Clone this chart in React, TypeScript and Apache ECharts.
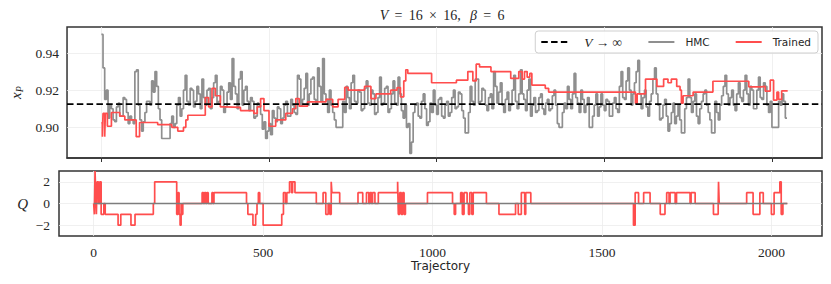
import React, { useEffect, useRef } from 'react';
import * as echarts from 'echarts';

// ---- axis extents / ticks ----
const X_MIN = -102.35;
const X_MAX = 2149.35;
const XP_MIN = 0.8835;
const XP_MAX = 0.954;
const Q_MIN = -3;
const Q_MAX = 3;
const xTicks = [0, 500, 1000, 1500, 2000];
const xpTicks = [0.9, 0.92, 0.94];
const qTicks = [-2, 0, 2];

// infinite-volume reference value
const vInfinity = 0.9125;

// ---- HMC x_P, one reading every 5 trajectories (0, 5, 10, ...) ----
const hmcStride = 5;
const hmcXp = [
  0.950, 0.932, 0.915, 0.920, 0.905, 0.912, 0.910, 0.904, 0.903, 0.911, 0.913, 0.906, 0.906, 0.916, 0.915, 0.908, 0.902, 0.906, 0.904, 0.902,
  0.930, 0.931, 0.912, 0.904, 0.898, 0.903, 0.908, 0.914, 0.914, 0.912, 0.925, 0.919, 0.930, 0.922, 0.910, 0.904, 0.894, 0.894, 0.894, 0.894,
  0.894, 0.902, 0.906, 0.900, 0.902, 0.912, 0.916, 0.906, 0.910, 0.920, 0.928, 0.914, 0.912, 0.921, 0.920, 0.911, 0.914, 0.922, 0.918, 0.910,
  0.926, 0.916, 0.912, 0.920, 0.921, 0.910, 0.916, 0.924, 0.928, 0.913, 0.914, 0.922, 0.920, 0.908, 0.911, 0.919, 0.924, 0.915, 0.937, 0.922,
  0.918, 0.910, 0.926, 0.930, 0.912, 0.920, 0.922, 0.914, 0.909, 0.916, 0.914, 0.905, 0.906, 0.913, 0.912, 0.907, 0.899, 0.903, 0.894, 0.898,
  0.902, 0.896, 0.909, 0.905, 0.903, 0.911, 0.910, 0.902, 0.905, 0.912, 0.914, 0.906, 0.906, 0.915, 0.912, 0.908, 0.907, 0.928, 0.926, 0.912,
  0.915, 0.921, 0.929, 0.912, 0.918, 0.926, 0.927, 0.915, 0.913, 0.932, 0.922, 0.914, 0.937, 0.918, 0.915, 0.908, 0.920, 0.912, 0.908, 0.904,
  0.900, 0.900, 0.900, 0.900, 0.914, 0.908, 0.922, 0.916, 0.910, 0.924, 0.928, 0.914, 0.913, 0.920, 0.919, 0.909, 0.910, 0.921, 0.925, 0.913,
  0.912, 0.920, 0.918, 0.907, 0.908, 0.916, 0.927, 0.912, 0.913, 0.921, 0.922, 0.908, 0.910, 0.918, 0.925, 0.913, 0.912, 0.927, 0.918, 0.909,
  0.905, 0.912, 0.900, 0.902, 0.886, 0.892, 0.908, 0.912, 0.913, 0.906, 0.905, 0.914, 0.918, 0.910, 0.901, 0.903, 0.913, 0.908, 0.920, 0.912,
  0.907, 0.915, 0.916, 0.906, 0.905, 0.912, 0.914, 0.906, 0.908, 0.916, 0.920, 0.910, 0.911, 0.919, 0.918, 0.909, 0.905, 0.897, 0.897, 0.908,
  0.922, 0.914, 0.912, 0.926, 0.926, 0.913, 0.914, 0.921, 0.920, 0.912, 0.909, 0.916, 0.918, 0.910, 0.930, 0.922, 0.913, 0.919, 0.924, 0.912,
  0.908, 0.915, 0.919, 0.909, 0.912, 0.920, 0.928, 0.914, 0.910, 0.918, 0.931, 0.918, 0.915, 0.909, 0.920, 0.926, 0.906, 0.912, 0.916, 0.908,
  0.909, 0.916, 0.918, 0.910, 0.907, 0.913, 0.915, 0.909, 0.910, 0.917, 0.920, 0.912, 0.902, 0.900, 0.900, 0.908, 0.913, 0.910, 0.922, 0.915,
  0.910, 0.918, 0.929, 0.916, 0.913, 0.908, 0.920, 0.915, 0.908, 0.912, 0.916, 0.900, 0.900, 0.906, 0.912, 0.918, 0.906, 0.911, 0.918, 0.912,
  0.909, 0.915, 0.914, 0.906, 0.906, 0.913, 0.916, 0.910, 0.908, 0.922, 0.930, 0.916, 0.915, 0.925, 0.932, 0.920, 0.912, 0.918, 0.924, 0.930,
  0.936, 0.918, 0.910, 0.916, 0.920, 0.911, 0.906, 0.914, 0.918, 0.926, 0.932, 0.918, 0.912, 0.904, 0.905, 0.912, 0.915, 0.906, 0.898, 0.902,
  0.908, 0.913, 0.902, 0.906, 0.912, 0.904, 0.897, 0.897, 0.910, 0.916, 0.926, 0.916, 0.908, 0.914, 0.918, 0.906, 0.902, 0.910, 0.914, 0.918,
  0.920, 0.912, 0.908, 0.904, 0.897, 0.897, 0.914, 0.908, 0.904, 0.912, 0.917, 0.922, 0.928, 0.918, 0.912, 0.916, 0.920, 0.912, 0.909, 0.918,
  0.924, 0.916, 0.914, 0.920, 0.928, 0.918, 0.912, 0.922, 0.920, 0.910, 0.910, 0.920, 0.927, 0.916, 0.915, 0.924, 0.922, 0.912, 0.908, 0.914,
  0.900, 0.900, 0.900, 0.900, 0.914, 0.912, 0.918, 0.914, 0.905, 0.905,
];

// ---- Trained x_P, step changes (trajectory where a value starts) ----
const trainedXpTraj = [
  0, 3, 5, 10, 12, 18, 30, 55, 70, 104, 114, 168, 210, 228, 245, 252, 258, 310, 320, 330,
  340, 355, 370, 415, 455, 465, 475, 485, 500, 520, 550, 570, 580, 590, 615, 670, 690, 706, 726, 736,
  785, 804, 819, 863, 882, 892, 902, 908, 914, 985, 1059, 1093, 1108, 1118, 1128, 1162, 1221, 1245, 1255, 1262,
  1270, 1278, 1284, 1324, 1334, 1593, 1598, 1623, 1657, 1677, 1690, 1700, 1716, 1726, 1730, 1735, 1765, 1824, 1931, 1966,
  1980, 1995, 2005, 2015, 2020, 2029, 2047,
];
const trainedXpVal = [
  0.9024, 0.895, 0.9075, 0.895, 0.9075, 0.9006, 0.908, 0.906, 0.904, 0.895, 0.9026, 0.9015, 0.9, 0.898, 0.9, 0.904, 0.9065, 0.916, 0.911, 0.921,
  0.917, 0.911, 0.9107, 0.909, 0.9075, 0.911, 0.9155, 0.909, 0.9006, 0.904, 0.9075, 0.91, 0.9155, 0.9114, 0.9137, 0.915, 0.911, 0.915, 0.9215, 0.92,
  0.922, 0.9155, 0.918, 0.92, 0.9214, 0.9164, 0.925, 0.931, 0.929, 0.924, 0.9254, 0.93, 0.925, 0.934, 0.9325, 0.93, 0.9263, 0.93, 0.926, 0.93,
  0.927, 0.929, 0.9227, 0.921, 0.919, 0.913, 0.918, 0.926, 0.922, 0.926, 0.924, 0.926, 0.922, 0.92, 0.913, 0.917, 0.919, 0.9248, 0.9218, 0.922,
  0.9195, 0.9254, 0.9146, 0.919, 0.915, 0.9196, 0.9196,
];

// ---- Topological charge Q ----
const hmcQTraj = [0, 2047];
const hmcQVal = [0, 0];
const trainedQTraj = [
  0, 2, 4, 6, 8, 10, 14, 18, 22, 30, 34, 72, 80, 110, 122, 176, 180, 245, 249, 252,
  255, 258, 260, 263, 320, 324, 327, 331, 334, 338, 349, 352, 355, 451, 455, 470, 478, 482, 486, 490,
  500, 555, 560, 566, 570, 578, 584, 587, 594, 657, 677, 685, 692, 697, 701, 703, 726, 780, 794, 805,
  812, 815, 820, 823, 830, 840, 897, 899, 903, 908, 912, 916, 920, 985, 1059, 1064, 1068, 1083, 1088, 1093,
  1102, 1106, 1110, 1116, 1120, 1159, 1196, 1245, 1253, 1262, 1272, 1275, 1290, 1593, 1598, 1608, 1623, 1642, 1672, 1686,
  1691, 1698, 1701, 1716, 1720, 1760, 1763, 1775, 1829, 1843, 1844, 1846, 1927, 1946, 1966, 1976, 2000, 2008, 2025, 2029,
  2034, 2047,
];
const trainedQVal = [
  0, -1, 3, 1, -1, 2, 0, 2, -1, 0, -1, -2, -1, -2, -1, 0, 2, -1, 1, -1,
  -2, 0, -1, 0, 1, 0, 1, 0, 1, 0, 1, 0, 1, 0, -1, -2, -1, 0, 1, 0,
  -2, -1, 1, 0, 1, 2, 1, 2, 1, 0, 1, -1, 0, -1, 2, 1, 0, 1, 0, 1,
  0, 1, 0, 1, 0, 1, 2, -1, 1, -1, 1, -1, 0, 1, 0, -1, 0, 1, -1, 1,
  0, -1, 1, -1, 1, 0, -1, 0, -1, 1, -1, 1, 0, -2, 1, 0, 1, 0, -1, 0,
  1, 0, 1, 0, 1, 0, 1, 0, -1, 0, 2, 0, 1, -1, 1, 0, -1, 1, 2, -1,
  0, 0,
];

const HMC_COLOR = '#8f8f8f';
const TRAINED_COLOR = '#ff4d4d';
const SERIF = 'Liberation Serif';
const SANS = 'DejaVu Sans';
const TEXT = '#262626';
const FRAME = '#333333';
const GRIDLINE = '#ececec';

const zip = (xs: number[], ys: number[]) => xs.map((x, i) => [x, ys[i]]);

export default function App() {
  const ref = useRef<HTMLDivElement>(null);

  useEffect(() => {
    if (!ref.current) return;
    const chart = echarts.init(ref.current, undefined, { renderer: 'svg' });

    const hmcXpData = hmcXp.map((v, i) => [i * hmcStride, v]);
    // horizontal reference line spanning the full x extent
    const vInfData = [
      [X_MIN, vInfinity],
      [X_MAX, vInfinity],
    ];

    const baseX = {
      type: 'value',
      min: X_MIN,
      max: X_MAX,
      splitLine: { show: true, lineStyle: { color: GRIDLINE, width: 0.8 } },
    };

    const option: any = {
      animation: false,
      grid: [
        { left: 59, right: 9, top: 27, height: 131, show: true, borderColor: FRAME, borderWidth: 1.5, backgroundColor: 'transparent' },
        { left: 59, right: 9, top: 171, height: 65, show: true, borderColor: FRAME, borderWidth: 1.5, backgroundColor: 'transparent' },
      ],
      xAxis: [
        {
          ...baseX,
          gridIndex: 0,
          axisLine: { show: true, lineStyle: { color: FRAME, width: 1.5 } },
          axisTick: { show: true, customValues: xTicks, length: 4, lineStyle: { color: FRAME, width: 1 } },
          axisLabel: { show: false, customValues: xTicks },
        },
        {
          ...baseX,
          gridIndex: 1,
          axisLine: { show: false },
          axisTick: { show: false, customValues: xTicks },
          axisLabel: {
            show: true,
            customValues: xTicks,
            margin: 9,
            fontFamily: SERIF,
            fontSize: 13.5,
            color: TEXT,
            formatter: (v: number) => String(v),
          },
          name: 'Trajectory',
          nameLocation: 'middle',
          nameGap: 24,
          nameTextStyle: { fontFamily: SANS, fontSize: 12, color: TEXT },
        },
      ],
      yAxis: [
        {
          type: 'value',
          gridIndex: 0,
          min: XP_MIN,
          max: XP_MAX,
          axisLine: { show: false },
          axisTick: { show: false, customValues: xpTicks },
          axisLabel: {
            customValues: xpTicks,
            margin: 8,
            fontFamily: SERIF,
            fontSize: 13.5,
            color: TEXT,
            formatter: (v: number) => v.toFixed(2),
          },
          splitLine: { show: true, lineStyle: { color: GRIDLINE, width: 0.8 } },
          name: '{i|x}{s|P}',
          nameLocation: 'middle',
          nameRotate: 90,
          nameGap: 35,
          nameTextStyle: {
            color: TEXT,
            rich: {
              i: { fontFamily: SERIF, fontStyle: 'italic', fontSize: 15, lineHeight: 18, color: TEXT },
              s: { fontFamily: SERIF, fontStyle: 'italic', fontSize: 10, lineHeight: 10, verticalAlign: 'bottom', color: TEXT },
            },
          },
        },
        {
          type: 'value',
          gridIndex: 1,
          min: Q_MIN,
          max: Q_MAX,
          axisLine: { show: false },
          axisTick: { show: false, customValues: qTicks },
          axisLabel: {
            customValues: qTicks,
            margin: 9,
            fontFamily: SERIF,
            fontSize: 13.5,
            color: TEXT,
            formatter: (v: number) => (v < 0 ? '\u2212' + Math.abs(v) : String(v)),
          },
          splitLine: { show: true, lineStyle: { color: GRIDLINE, width: 0.8 } },
          name: '{q|Q}',
          nameLocation: 'middle',
          nameRotate: 0,
          nameGap: 31,
          nameTextStyle: {
            rich: { q: { fontFamily: SERIF, fontStyle: 'italic', fontSize: 15, color: TEXT } },
          },
        },
      ],
      legend: {
        data: ['V → ∞', 'HMC', 'Trained'],
        right: 13,
        top: 31,
        itemWidth: 26,
        itemHeight: 14,
        itemGap: 25,
        padding: [4, 7, 4, 5],
        selectedMode: false,
        backgroundColor: 'rgba(255,255,255,0.85)',
        borderColor: '#cfcfcf',
        borderWidth: 1,
        borderRadius: 3,
        itemStyle: { opacity: 0 },
        textStyle: {
          fontFamily: SANS,
          fontSize: 10.5,
          color: TEXT,
          padding: [0, 0, 0, 6],
          rich: { m: { fontFamily: SERIF, fontStyle: 'italic', fontSize: 13.5, color: TEXT, padding: [0, 0, 0, 6] } },
        },
        formatter: (n: string) => (n === 'V → ∞' ? '{m|V → ∞}' : n),
      },
      graphic: [
        {
          type: 'text',
          x: 440.6,
          y: 15,
          style: {
            text: '{i|V}\u00a0\u2009=\u00a0\u200916\u00a0\u2009×\u00a0\u200916,\u2009\u00a0{i|β}\u00a0\u2009=\u00a0\u20096',
            align: 'center',
            verticalAlign: 'middle',
            fontFamily: SERIF,
            fontSize: 14,
            fill: TEXT,
            rich: { i: { fontFamily: SERIF, fontStyle: 'italic', fontSize: 14, fill: TEXT, padding: [0, 0, 0, 3] } },
          },
        },
      ],
      series: [
        {
          name: 'HMC',
          type: 'line',
          xAxisIndex: 0,
          yAxisIndex: 0,
          data: hmcXpData,
          step: 'end',
          symbol: 'none',
          color: HMC_COLOR,
          lineStyle: { color: HMC_COLOR, width: 1.7 },
          z: 2,
        },
        {
          name: 'Trained',
          type: 'line',
          xAxisIndex: 0,
          yAxisIndex: 0,
          data: zip(trainedXpTraj, trainedXpVal),
          step: 'end',
          symbol: 'none',
          color: TRAINED_COLOR,
          lineStyle: { color: TRAINED_COLOR, width: 1.7 },
          z: 3,
        },
        {
          name: 'Trained',
          type: 'line',
          xAxisIndex: 1,
          yAxisIndex: 1,
          data: zip(trainedQTraj, trainedQVal),
          step: 'end',
          symbol: 'none',
          color: TRAINED_COLOR,
          lineStyle: { color: TRAINED_COLOR, width: 1.7 },
          z: 2,
        },
        {
          name: 'HMC',
          type: 'line',
          xAxisIndex: 1,
          yAxisIndex: 1,
          data: zip(hmcQTraj, hmcQVal),
          step: 'end',
          symbol: 'none',
          color: HMC_COLOR,
          lineStyle: { color: '#7d7d7d', width: 1.7 },
          z: 3,
        },
        {
          name: 'V → ∞',
          type: 'line',
          xAxisIndex: 0,
          yAxisIndex: 0,
          data: vInfData,
          symbol: 'none',
          silent: true,
          color: '#000',
          lineStyle: { color: '#000', width: 1.9, type: [6.5, 3.3] },
          z: 5,
        },
      ],
    };

    chart.setOption(option);
    return () => chart.dispose();
  }, []);

  return (
    <div
      ref={ref}
      style={{ position: 'fixed', left: 0, top: 0, width: 831, height: 284, background: '#fff' }}
    />
  );
}
